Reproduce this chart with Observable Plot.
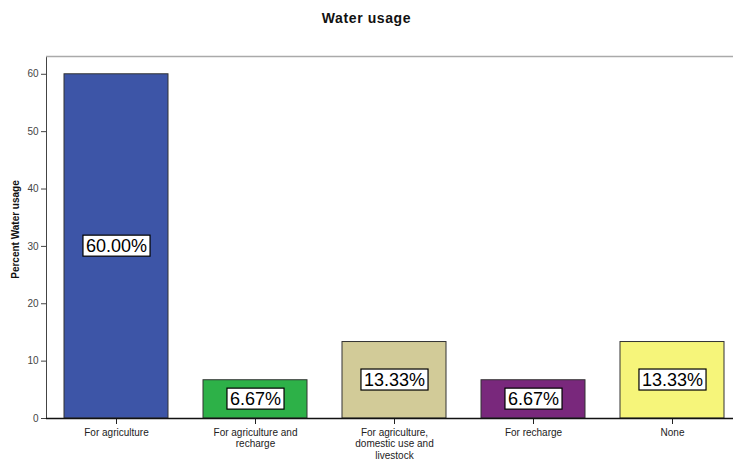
<!DOCTYPE html>
<html>
<head>
<meta charset="utf-8">
<script src="https://cdn.jsdelivr.net/npm/d3@7"></script>
<script src="https://cdn.jsdelivr.net/npm/@observablehq/plot@0.6"></script>
<style>
  html, body { margin: 0; padding: 0; background: #fff; }
  body { width: 733px; height: 462px; overflow: hidden; font-family: "Liberation Sans", Arial, sans-serif; }
  #title { height: 40px; line-height: 36px; text-align: center; font-weight: bold; font-size: 14px; letter-spacing: 0.6px; color: #111; }
  svg { display: block; overflow: visible; }
</style>
</head>
<body>
<div id="title">Water usage</div>
<div id="chart"></div>
<script>
const categories = [
  "For agriculture",
  "For agriculture and recharge",
  "For agriculture, domestic use and livestock",
  "For recharge",
  "None"
];
const tickLabels = [
  "For agriculture",
  "For agriculture and\nrecharge",
  "For agriculture,\ndomestic use and\nlivestock",
  "For recharge",
  "None"
];
const percents = [60.00, 6.67, 13.33, 6.67, 13.33];
const palette = ["#3D55A7", "#2DB148", "#D2CB98", "#79287C", "#F6F57A"];
const yTicks = [0, 10, 20, 30, 40, 50, 60];
const yLabel = "Percent Water usage";

const data = categories.map((c, i) => ({category: c, value: percents[i]}));
const labelOf = new Map(categories.map((c, i) => [c, tickLabels[i]]));

const chart = Plot.plot({
  width: 733,
  height: 422,
  marginLeft: 46,
  marginRight: 0,
  marginTop: 16,
  marginBottom: 44,
  style: {fontFamily: "'Liberation Sans', Arial, sans-serif", fontSize: "10px", color: "#444", background: "#fff"},
  x: {domain: categories, range: [46, 741], paddingInner: 0.253, paddingOuter: 0.122, label: null, axis: null},
  y: {domain: [0, 63.1], label: null, ticks: yTicks, tickSize: 5, tickPadding: 3, line: true},
  color: {domain: categories, range: palette},
  marks: [
    Plot.ruleY([63.1], {stroke: "#aaa", strokeWidth: 1.5}),
    Plot.barY(data, {x: "category", y: "value", fill: "category", stroke: "#333", strokeWidth: 1}),
    Plot.axisX({tickSize: 6, tickPadding: 3, fontSize: 10, color: "#222", lineHeight: 1.15, label: null,
      tickFormat: d => labelOf.get(d)}),
    Plot.ruleY([0], {stroke: "#111", strokeWidth: 1.5}),
    Plot.text([yLabel], {frameAnchor: "left", textAnchor: "middle", rotate: -90, dx: -31, dy: -8,
      fontSize: 10, fontWeight: "bold", fill: "#111"}),
    Plot.text(data, {x: "category", y: d => d.value / 2, text: d => d.value.toFixed(2) + "%",
      fontSize: 18, fill: "#000", className: "vlabel"})
  ]
});
document.getElementById("chart").appendChild(chart);

// white bordered boxes behind the value labels, sized from the rendered text
d3.select(chart).selectAll("g.vlabel text").each(function() {
  const b = this.getBBox();
  const rect = document.createElementNS("http://www.w3.org/2000/svg", "rect");
  const t = this.getAttribute("transform");
  if (t) rect.setAttribute("transform", t);
  rect.setAttribute("x", b.x - 3);
  rect.setAttribute("y", b.y - 1);
  rect.setAttribute("width", b.width + 6);
  rect.setAttribute("height", b.height + 1);
  rect.setAttribute("fill", "#fff");
  rect.setAttribute("stroke", "#000");
  rect.setAttribute("stroke-width", "1.2");
  this.parentNode.insertBefore(rect, this);
});
</script>
</body>
</html>
